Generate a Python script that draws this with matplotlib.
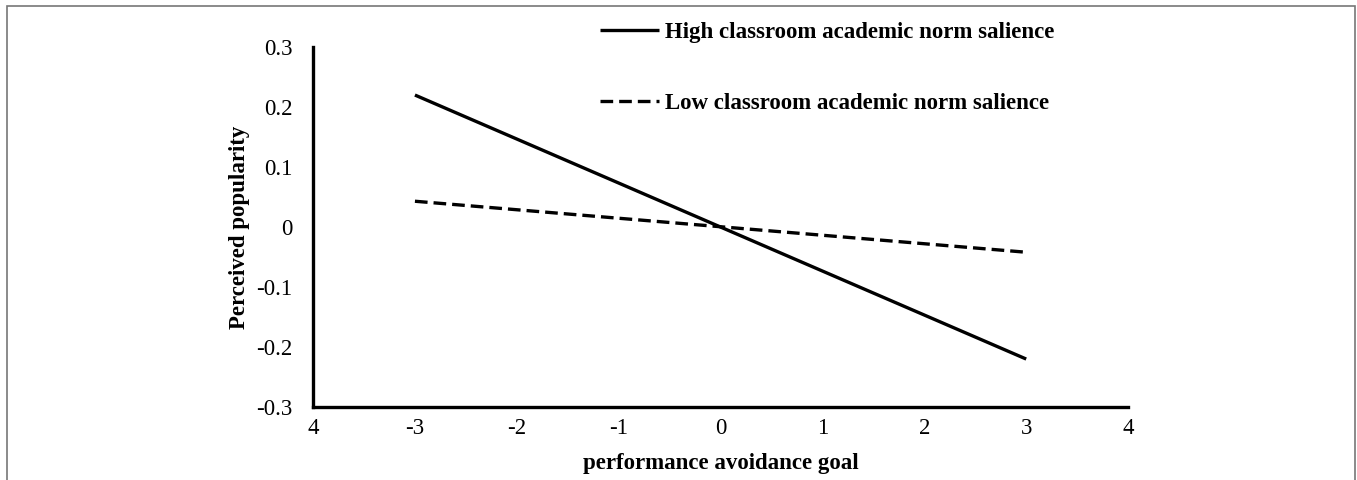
import matplotlib.pyplot as plt
from matplotlib.patches import Rectangle

plt.rcParams['font.family'] = ['Liberation Serif', 'DejaVu Serif']

# simple slopes: predicted popularity at -3 and +3 of the predictor
x_pts = [-3, 3]
high_norm = [0.22, -0.22]
low_norm = [0.043, -0.042]

x_ticks = [-4, -3, -2, -1, 0, 1, 2, 3, 4]
x_ticklabels = ['4', '-3', '-2', '-1', '0', '1', '2', '3', '4']
y_ticks = [-0.3, -0.2, -0.1, 0, 0.1, 0.2, 0.3]
y_ticklabels = ['-0.3', '-0.2', '-0.1', '0', '0.1', '0.2', '0.3']

fig = plt.figure(figsize=(13.57, 4.8), dpi=100)
ax = fig.add_axes([0.2307, 0.152, 0.6006, 0.75])

ax.plot(x_pts, high_norm, color='black', lw=2.4, solid_capstyle='butt',
        label='High classroom academic norm salience')
ax.plot(x_pts, low_norm, color='black', lw=2.4, linestyle=(0, (3.8, 1.8)),
        label='Low classroom academic norm salience')

ax.set_xlim(-4, 4)
ax.set_ylim(-0.3, 0.3)
ax.set_xticks(x_ticks)
ax.set_xticklabels(x_ticklabels)
ax.set_yticks(y_ticks)
ax.set_yticklabels(y_ticklabels)
ax.tick_params(length=0, labelsize=16.5)
ax.tick_params(axis='x', pad=8)
ax.tick_params(axis='y', pad=15)

for s in ['top', 'right']:
    ax.spines[s].set_visible(False)
for s in ['left', 'bottom']:
    ax.spines[s].set_linewidth(2.4)

ax.set_xlabel('performance avoidance goal', fontsize=16.5, fontweight='bold', labelpad=10)
ax.set_ylabel('Perceived popularity', fontsize=16.5, fontweight='bold', labelpad=4)

leg = fig.legend(loc='upper left', bbox_to_anchor=(0.4335, 0.978), frameon=False,
                 prop={'size': 16.5, 'weight': 'bold'}, handlelength=2.6,
                 handletextpad=0.25, labelspacing=2.17, borderpad=0)

# outer frame
fig.patches.append(Rectangle((7 / 1357, -0.05), 1348 / 1357, 1.05 - 6 / 480,
                             transform=fig.transFigure, fill=False,
                             edgecolor='#777777', lw=1.2))

fig.savefig('out.png', dpi=100)
